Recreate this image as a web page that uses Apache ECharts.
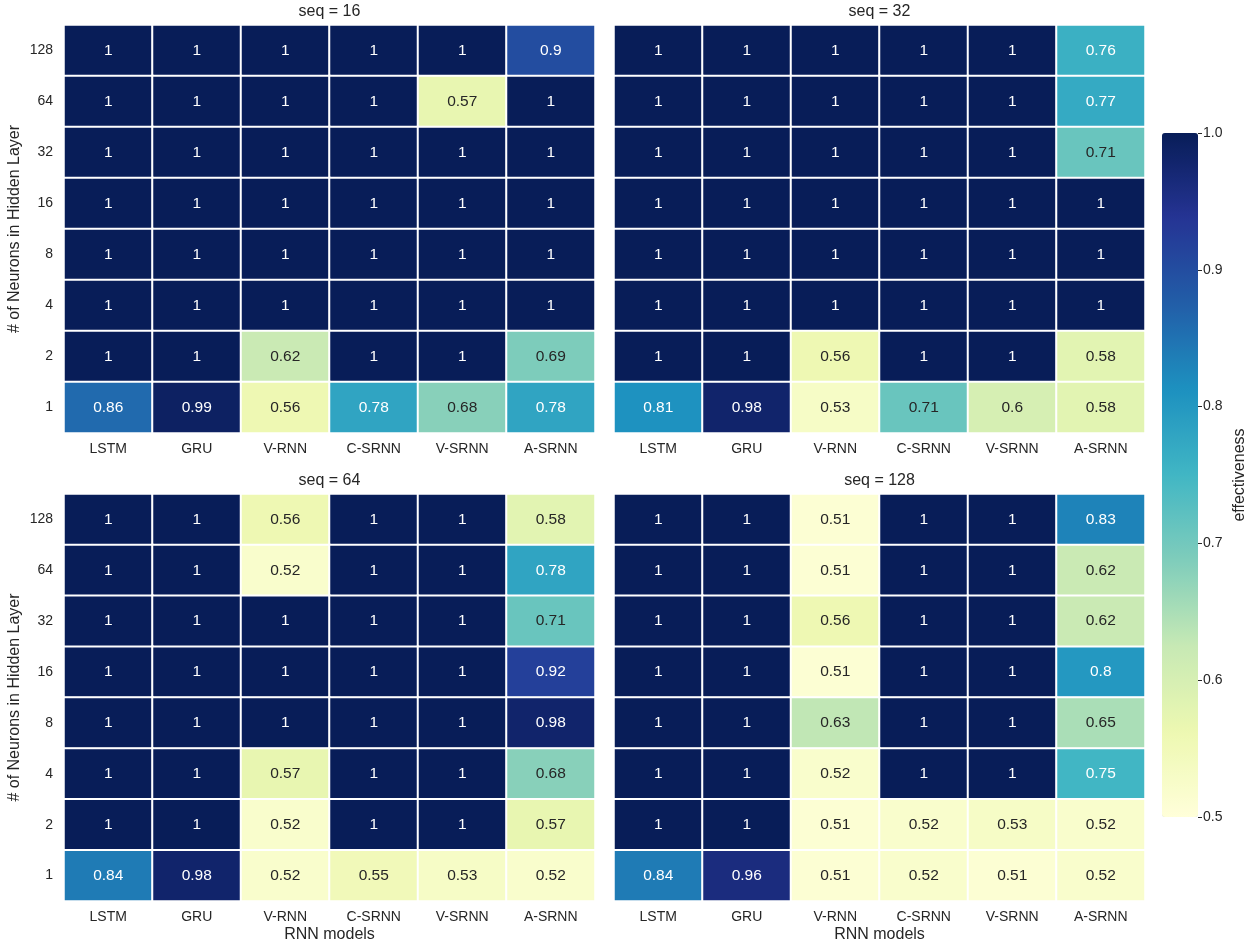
<!DOCTYPE html>
<html>
<head>
<meta charset="utf-8">
<script src="https://cdn.jsdelivr.net/npm/echarts@6/dist/echarts.min.js"></script>
<style>
  html, body { margin: 0; padding: 0; background: #fff; }
  #chart { width: 1254px; height: 944px; }
</style>
</head>
<body>
<div id="chart"></div>
<script>
// Model names along x, hidden-layer sizes along y (bottom to top)
const models = ['LSTM', 'GRU', 'V-RNN', 'C-SRNN', 'V-SRNN', 'A-SRNN'];
const neurons = ['1', '2', '4', '8', '16', '32', '64', '128'];
const seqTitles = ['seq = 16', 'seq = 32', 'seq = 64', 'seq = 128'];
const colorbarTicks = [0.5, 0.6, 0.7, 0.8, 0.9, 1.0];

// Effectiveness per panel, rows listed from 128 (top) down to 1 (bottom)
const seq16 = [
  [1, 1, 1, 1, 1, 0.9],
  [1, 1, 1, 1, 0.57, 1],
  [1, 1, 1, 1, 1, 1],
  [1, 1, 1, 1, 1, 1],
  [1, 1, 1, 1, 1, 1],
  [1, 1, 1, 1, 1, 1],
  [1, 1, 0.62, 1, 1, 0.69],
  [0.86, 0.99, 0.56, 0.78, 0.68, 0.78]
];
const seq32 = [
  [1, 1, 1, 1, 1, 0.76],
  [1, 1, 1, 1, 1, 0.77],
  [1, 1, 1, 1, 1, 0.71],
  [1, 1, 1, 1, 1, 1],
  [1, 1, 1, 1, 1, 1],
  [1, 1, 1, 1, 1, 1],
  [1, 1, 0.56, 1, 1, 0.58],
  [0.81, 0.98, 0.53, 0.71, 0.6, 0.58]
];
const seq64 = [
  [1, 1, 0.56, 1, 1, 0.58],
  [1, 1, 0.52, 1, 1, 0.78],
  [1, 1, 1, 1, 1, 0.71],
  [1, 1, 1, 1, 1, 0.92],
  [1, 1, 1, 1, 1, 0.98],
  [1, 1, 0.57, 1, 1, 0.68],
  [1, 1, 0.52, 1, 1, 0.57],
  [0.84, 0.98, 0.52, 0.55, 0.53, 0.52]
];
const seq128 = [
  [1, 1, 0.51, 1, 1, 0.83],
  [1, 1, 0.51, 1, 1, 0.62],
  [1, 1, 0.56, 1, 1, 0.62],
  [1, 1, 0.51, 1, 1, 0.8],
  [1, 1, 0.63, 1, 1, 0.65],
  [1, 1, 0.52, 1, 1, 0.75],
  [1, 1, 0.51, 0.52, 0.53, 0.52],
  [0.84, 0.96, 0.51, 0.52, 0.51, 0.52]
];
const panels = [seq16, seq32, seq64, seq128];

// YlGnBu colour ramp
const ylGnBu = ['#ffffd9', '#edf8b1', '#c7e9b4', '#7fcdbb', '#41b6c4',
                '#1d91c0', '#225ea8', '#253494', '#081d58'];

const FONT = '"Liberation Sans", Arial, sans-serif';
const TEXT = '#262626';

const gridBoxes = [
  { left: 64, top: 25, width: 531, height: 408 },
  { left: 614, top: 25, width: 531, height: 408 },
  { left: 64, top: 494, width: 531, height: 408 },
  { left: 614, top: 494, width: 531, height: 408 }
];

function toCells(rows) {
  const out = [];
  rows.forEach((row, r) => {
    const yi = neurons.length - 1 - r;
    row.forEach((v, xi) => {
      out.push({
        value: [xi, yi, v],
        label: { color: v >= 0.73 ? '#ffffff' : TEXT }
      });
    });
  });
  return out;
}

const grids = gridBoxes.map(b => Object.assign({ containLabel: false }, b));
grids.push({ left: 1162, top: 133, width: 36, height: 684 });

const xAxes = gridBoxes.map((b, i) => ({
  type: 'category', gridIndex: i, data: models,
  axisLine: { show: false }, axisTick: { show: false }, splitLine: { show: false },
  axisLabel: { color: TEXT, fontSize: 14, fontFamily: FONT, margin: 9 },
  name: i >= 2 ? 'RNN models' : '', nameLocation: 'middle', nameGap: 26,
  nameTextStyle: { color: TEXT, fontSize: 16, fontFamily: FONT }
}));
xAxes.push({ type: 'category', gridIndex: 4, data: [''], show: false });

const yAxes = gridBoxes.map((b, i) => ({
  type: 'category', gridIndex: i, data: neurons,
  axisLine: { show: false }, axisTick: { show: false }, splitLine: { show: false },
  axisLabel: { show: i % 2 === 0, color: TEXT, fontSize: 14, fontFamily: FONT, margin: 11 },
  name: i % 2 === 0 ? '# of Neurons in Hidden Layer' : '',
  nameLocation: 'middle', nameGap: 41, nameRotate: 90,
  nameTextStyle: { color: TEXT, fontSize: 16, fontFamily: FONT }
}));
yAxes.push({
  type: 'value', gridIndex: 4, position: 'right',
  min: colorbarTicks[0], max: colorbarTicks[colorbarTicks.length - 1], interval: 0.1,
  axisLine: { show: false }, splitLine: { show: false },
  axisTick: { show: true, length: 4, lineStyle: { color: TEXT, width: 1 } },
  axisLabel: { color: TEXT, fontSize: 14, fontFamily: FONT, margin: 5,
               formatter: v => Number(v).toFixed(1) },
  name: 'effectiveness', nameLocation: 'middle', nameGap: 34, nameRotate: 90,
  nameTextStyle: { color: TEXT, fontSize: 16, fontFamily: FONT }
});

const series = panels.map((rows, i) => ({
  type: 'heatmap', xAxisIndex: i, yAxisIndex: i,
  data: toCells(rows),
  itemStyle: { borderColor: '#ffffff', borderWidth: 2 },
  label: { show: true, fontSize: 15.5, fontFamily: FONT,
           formatter: p => String(p.value[2]) },
  emphasis: { disabled: true }
}));

const titles = gridBoxes.map((b, i) => ({
  text: seqTitles[i], padding: 0,
  left: b.left + b.width / 2, top: b.top - 21, textAlign: 'center',
  textStyle: { color: TEXT, fontSize: 16, fontWeight: 'normal', fontFamily: FONT }
}));

const chart = echarts.init(document.getElementById('chart'), null, { renderer: 'canvas' });
chart.setOption({
  backgroundColor: '#ffffff',
  animation: false,
  title: titles,
  grid: grids,
  xAxis: xAxes,
  yAxis: yAxes,
  visualMap: {
    type: 'continuous',
    min: colorbarTicks[0], max: colorbarTicks[colorbarTicks.length - 1],
    seriesIndex: [0, 1, 2, 3], dimension: 2,
    inRange: { color: ylGnBu },
    calculable: false, hoverLink: false,
    left: 1162, top: 133, itemWidth: 36, itemHeight: 684, padding: 0,
    orient: 'vertical'
  },
  series: series
});
</script>
</body>
</html>
